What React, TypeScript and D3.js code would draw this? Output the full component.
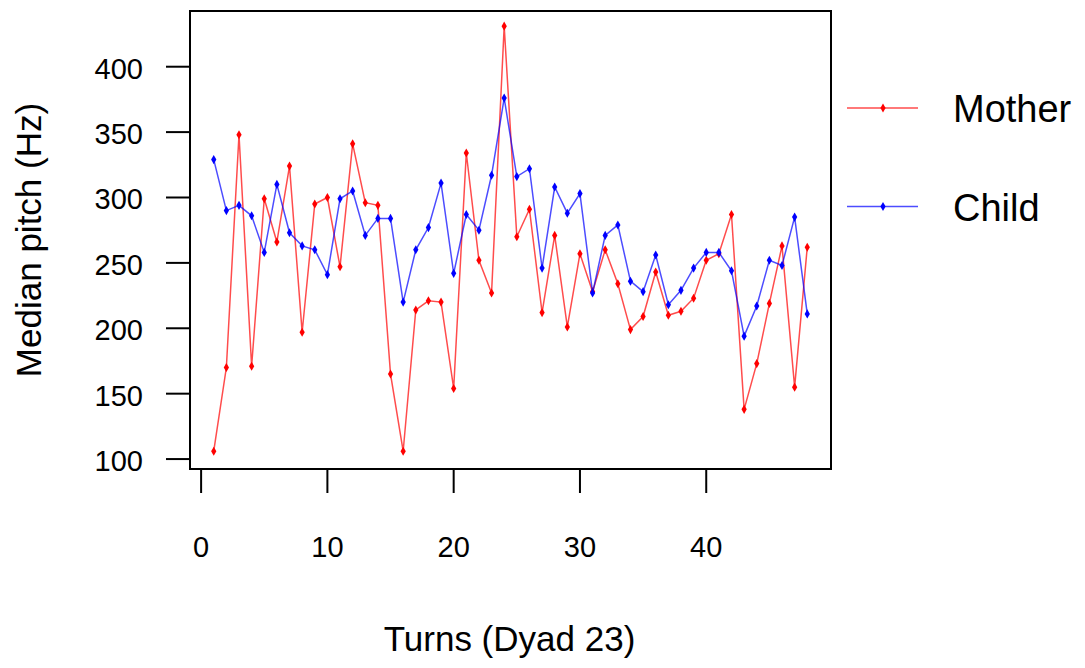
import React from "react";
import * as d3 from "d3";

// turns 1..48
const turns = d3.range(1, 49);
const mother = [106, 170, 348, 171, 299, 266, 324, 197, 295, 300,
  247, 341, 296, 294, 165, 106, 214, 221, 220, 154,
  334, 252, 227, 431, 270, 291, 212, 271, 201, 257,
  228, 260, 234, 199, 209, 243, 210, 213, 223, 252,
  257, 287, 138, 173, 219, 263, 155, 262];
const child = [329, 290, 294, 286, 258, 310, 273, 263, 260, 241,
  299, 305, 271, 284, 284, 220, 260, 277, 311, 242,
  287, 275, 317, 376, 316, 322, 246, 308, 288, 303,
  227, 271, 279, 236, 228, 256, 218, 229, 246, 258,
  258, 244, 194, 217, 252, 248, 285, 211];
const xTicks = [0, 10, 20, 30, 40];
const yTicks = [100, 150, 200, 250, 300, 350, 400];
const seriesNames = ["Mother", "Child"];
const seriesColors = ["#ff0000", "#0000ff"];

const font = "'Liberation Sans', Arial, Helvetica, sans-serif";

export default function App() {
  const width = 1085;
  const height = 668;
  const box = {left: 190, right: 831, top: 11, bottom: 469};

  const x = d3.scaleLinear([-0.88, 49.88], [box.left, box.right]);
  const y = d3.scaleLinear([92.4, 442.6], [box.bottom, box.top]);

  const line = d3.line<number>()
    .x((d, i) => x(turns[i]))
    .y(d => y(d));
  const diamond = d3.symbol(d3.symbolDiamond, 24)();

  const series = [mother, child];

  return (
    <svg width={width} height={height}
      style={{position: "absolute", left: 0, top: 0, background: "#fff"}}
      fontFamily={font}>
      <rect x={box.left} y={box.top} width={box.right - box.left} height={box.bottom - box.top}
        fill="none" stroke="#000" strokeWidth={2} />

      {series.map((s, k) => (
        <g key={k}>
          <path d={line(s) || ""} fill="none" stroke={seriesColors[k]} strokeOpacity={0.7} strokeWidth={1.5} />
          {s.map((d, i) => (
            <path key={i} d={diamond} transform={`translate(${x(turns[i])},${y(d)})`} fill={seriesColors[k]} />
          ))}
        </g>
      ))}

      {/* y axis */}
      {yTicks.map(t => (
        <g key={t}>
          <line x1={box.left - 24} x2={box.left} y1={y(t)} y2={y(t)} stroke="#000" strokeWidth={2} />
          <text x={box.left - 47} y={y(t) + 12} textAnchor="end" fontSize={29}>{t}</text>
        </g>
      ))}
      <text transform={`translate(41,${(box.top + box.bottom) / 2}) rotate(-90)`}
        textAnchor="middle" fontSize={35}>Median pitch (Hz)</text>

      {/* x axis */}
      {xTicks.map(t => (
        <g key={t}>
          <line x1={x(t)} x2={x(t)} y1={box.bottom} y2={box.bottom + 24} stroke="#000" strokeWidth={2} />
          <text x={x(t)} y={557} textAnchor="middle" fontSize={29}>{t}</text>
        </g>
      ))}
      <text x={(box.left + box.right) / 2 - 1} y={651} textAnchor="middle" fontSize={35}>Turns (Dyad 23)</text>

      {/* legend */}
      {seriesNames.map((n, k) => {
        const ly = 108 + k * 98.5;
        return (
          <g key={n}>
            <line x1={847} x2={918} y1={ly} y2={ly} stroke={seriesColors[k]} strokeOpacity={0.7} strokeWidth={1.5} />
            <path d={diamond} transform={`translate(883,${ly})`} fill={seriesColors[k]} />
            <text x={953} y={ly + 14} fontSize={38}>{n}</text>
          </g>
        );
      })}
    </svg>
  );
}
